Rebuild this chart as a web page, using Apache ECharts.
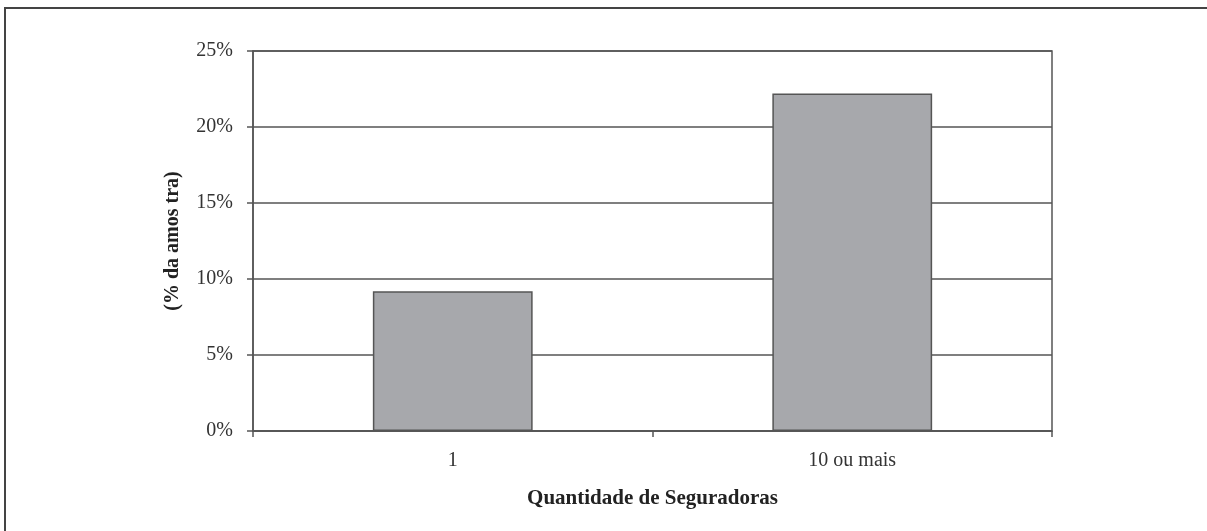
<!DOCTYPE html>
<html>
<head>
<meta charset="utf-8">
<script src="https://cdn.jsdelivr.net/npm/echarts@6/dist/echarts.min.js"></script>
<style>
  html, body { margin: 0; padding: 0; background: #fff; }
  #frame {
    position: absolute; left: 4px; top: 7px; right: 0; bottom: 0;
    border-left: 2px solid #444; border-top: 2px solid #444;
  }
  #chart { position: absolute; left: 0; top: 0; width: 1207px; height: 531px; }
</style>
</head>
<body>
<div id="frame"></div>
<div id="chart"></div>
<script>
const categories = ['1', '10 ou mais'];
const shares = [9.2, 22.2];
const yTicks = { min: 0, max: 25, interval: 5 };

const chart = echarts.init(document.getElementById('chart'));
const serif = '"Liberation Serif", "Times New Roman", serif';

chart.setOption({
  animation: false,
  grid: {
    left: 253, right: 155, top: 51, bottom: 100,
    show: true, borderColor: '#555', borderWidth: 1.5, backgroundColor: 'transparent'
  },
  xAxis: {
    type: 'category',
    data: categories,
    name: 'Quantidade de Seguradoras',
    nameLocation: 'middle',
    nameGap: 57,
    nameTextStyle: { fontFamily: serif, fontSize: 21, fontWeight: 'bold', color: '#222' },
    axisLine: { lineStyle: { color: '#555', width: 1.5 } },
    axisTick: { show: true, length: 6, lineStyle: { color: '#555', width: 1.5 } },
    axisLabel: { fontFamily: serif, fontSize: 20, color: '#333', margin: 20 }
  },
  yAxis: {
    type: 'value',
    min: yTicks.min, max: yTicks.max, interval: yTicks.interval,
    name: '(% da amos tra)',
    nameLocation: 'middle',
    nameGap: 70,
    nameTextStyle: { fontFamily: serif, fontSize: 20, fontWeight: 'bold', color: '#222' },
    axisLine: { show: true, lineStyle: { color: '#555', width: 1.5 } },
    axisTick: { show: true, length: 6, lineStyle: { color: '#555', width: 1.5 } },
    axisLabel: { fontFamily: serif, fontSize: 20, color: '#333', margin: 20, formatter: '{value}%' },
    splitLine: { lineStyle: { color: '#555', width: 1.5 } }
  },
  series: [{
    type: 'bar',
    data: shares,
    barWidth: '40%',
    itemStyle: { color: '#a7a8ac', borderColor: '#555', borderWidth: 1.5 }
  }]
});
</script>
</body>
</html>
